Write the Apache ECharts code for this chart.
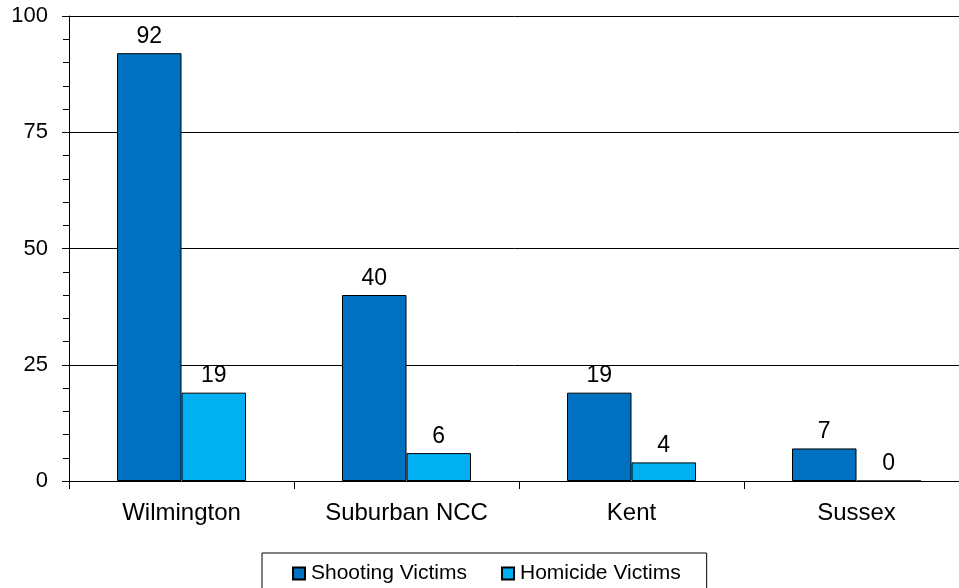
<!DOCTYPE html>
<html>
<head>
<meta charset="utf-8">
<script src="https://cdn.jsdelivr.net/npm/echarts@6/dist/echarts.min.js"></script>
<style>html,body{margin:0;padding:0;background:#fff}#c{width:959px;height:588px}</style>
</head>
<body>
<div id="c"></div>
<script>
const categories = ['Wilmington', 'Suburban NCC', 'Kent', 'Sussex'];
const shootingVictims = [92, 40, 19, 7];
const homicideVictims = [19, 6, 4, 0];
const seriesNames = ['Shooting Victims', 'Homicide Victims'];

const chart = echarts.init(document.getElementById('c'), null, {renderer: 'canvas'});
const font = 'Liberation Sans, Arial, sans-serif';
const label = {show: true, position: 'top', distance: 5, color: '#000', fontSize: 23, fontFamily: font};
chart.setOption({
  animation: false,
  textStyle: {fontFamily: font},
  grid: {left: 69, top: 16, width: 900, height: 465, outerBoundsMode: 'none', containLabel: false},
  legend: {
    data: seriesNames,
    left: 262, top: 553,
    padding: [10, 26, 10, 30],
    itemWidth: 12, itemHeight: 12, itemGap: 34,
    borderColor: '#000', borderWidth: 1,
    textStyle: {fontSize: 21, color: '#000', fontFamily: font, padding: [0, 0, 0, 1]},
    icon: 'rect'
  },
  xAxis: {
    type: 'category', data: categories,
    axisLine: {lineStyle: {color: '#000', width: 1}},
    axisTick: {show: true, length: 8, lineStyle: {color: '#000'}},
    axisLabel: {color: '#000', fontSize: 24, fontFamily: font, margin: 20}
  },
  yAxis: {
    type: 'value', min: 0, max: 100, interval: 25,
    axisLine: {show: true, lineStyle: {color: '#000', width: 1}},
    axisTick: {show: true, length: 7, lineStyle: {color: '#000'}},
    minorTick: {show: true, splitNumber: 5, length: 6, lineStyle: {color: '#000'}},
    splitLine: {show: true, lineStyle: {color: '#000', width: 1}},
    axisLabel: {color: '#000', fontSize: 22, fontFamily: font, margin: 21}
  },
  series: [
    {name: seriesNames[0], type: 'bar', data: shootingVictims, barWidth: 64.5, barGap: '0%',
     itemStyle: {color: '#0070C0', borderColor: '#000', borderWidth: 1}, label: label},
    {name: seriesNames[1], type: 'bar', data: homicideVictims, barWidth: 64.5, barGap: '0%',
     itemStyle: {color: '#00B0F0', borderColor: '#000', borderWidth: 1}, label: label}
  ]
});
</script>
</body>
</html>
